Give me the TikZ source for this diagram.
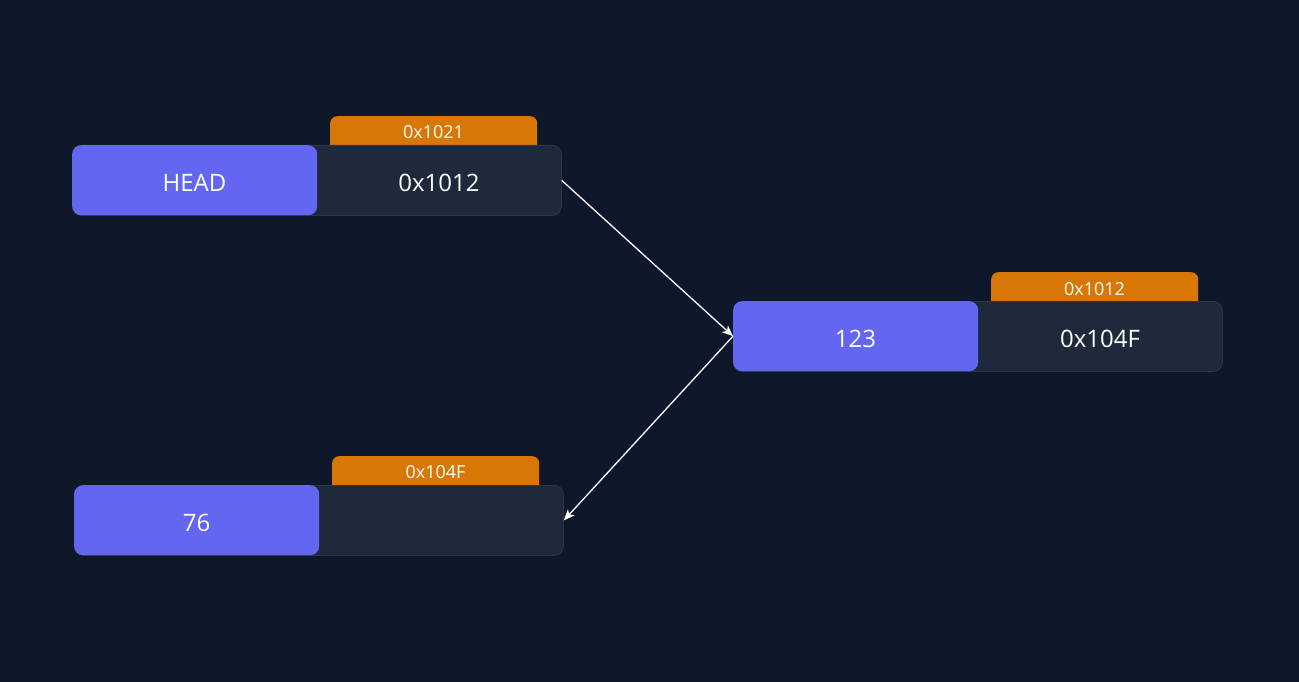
\documentclass[tikz,border=0pt]{standalone}
\usepackage{fontspec}
\setmainfont{Open Sans}
\usetikzlibrary{arrows.meta}
\definecolor{bgc}{HTML}{0F172A}
\definecolor{cellc}{HTML}{1E293B}
\definecolor{valc}{HTML}{6366F1}
\definecolor{tagc}{HTML}{D97706}
\definecolor{edgec}{HTML}{2B364B}
\tikzset{
  cellbox/.style={draw=edgec, line width=0.8pt, fill=cellc, rounded corners=9pt, minimum width=489pt, minimum height=70pt, inner sep=0pt, anchor=north west},
  valbox/.style={fill=valc, rounded corners=9pt, minimum width=245pt, minimum height=70pt, inner sep=0pt, anchor=north west},
  bigtext/.style={text=white, font=\fontsize{24}{27}\selectfont, inner sep=0pt},
  tagbox/.style={fill=tagc, rounded corners=7pt, minimum width=207pt, minimum height=40pt, inner sep=0pt, anchor=north west},
  tagtext/.style={text=white, font=\fontsize{18}{21}\selectfont, inner sep=0pt},
  link/.style={draw=white, line width=1.3pt, -{Stealth[length=11pt, width=9pt, inset=3pt]}}
}
\begin{document}
\begin{tikzpicture}[x=1pt, y=-1pt]
\fill[bgc] (0,0) rectangle (1299,682);
\useasboundingbox (0,0) rectangle (1299,682);
% node 1
\node[tagbox] (t1) at (330,116) {};
\node[cellbox] (c1) at (72,145) {};
\node[valbox] (v1) at (72,145) {};
\node[bigtext] (h1) at (194.5,183) {HEAD};
\node[bigtext] (p1) at (439,182.5) {0x1012};
\node[tagtext] (l1) at (433.5,132) {0x1021};
% node 2
\node[tagbox] (t2) at (991,272) {};
\node[cellbox] (c2) at (733,301) {};
\node[valbox] (v2) at (733,301) {};
\node[bigtext] (h2) at (855.5,338.5) {123};
\node[bigtext] (p2) at (1100,338.5) {0x104F};
\node[tagtext] (l2) at (1094.5,289) {0x1012};
% node 3
\node[tagbox] (t3) at (332,456) {};
\node[cellbox] (c3) at (74,485) {};
\node[valbox] (v3) at (74,485) {};
\node[bigtext] (h3) at (196.5,522.5) {76};
\node[tagtext] (l3) at (435.5,472) {0x104F};
% links
\draw[link] (c1.east) -- (v2.west);
\draw[link] (v2.west) -- (c3.east);
\end{tikzpicture}
\end{document}
